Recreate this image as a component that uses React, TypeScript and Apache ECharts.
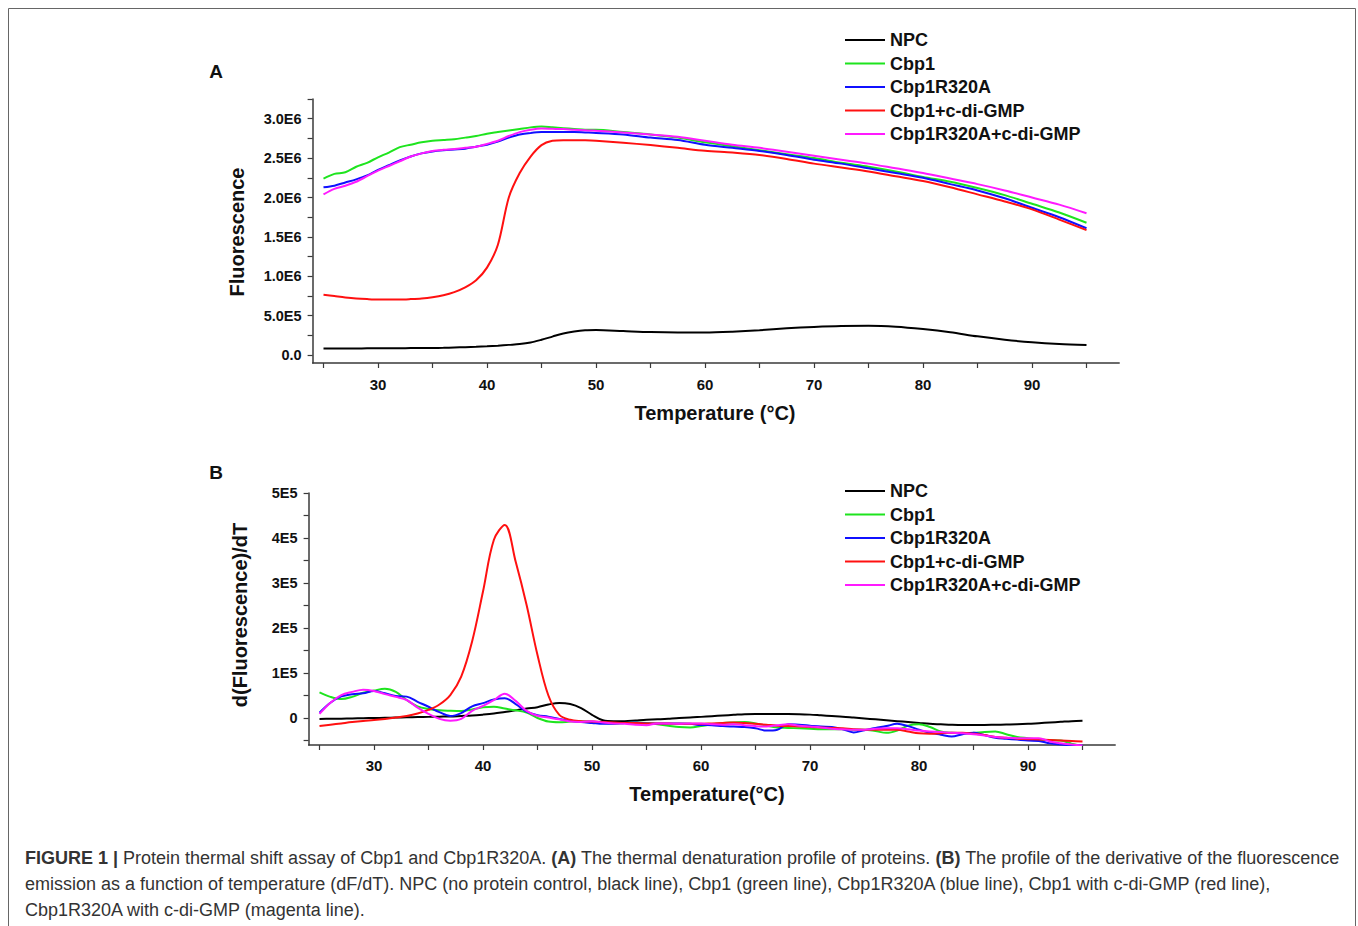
import React, { useEffect, useRef } from "react";
import * as echarts from "echarts";

// ---------- Panel A: Fluorescence (units of 1E6) ----------
const tempsA = [25, 26, 27, 28, 29, 30, 31, 32, 33, 34, 35, 36, 37, 38, 39, 40, 41, 42, 43, 44, 45, 46, 47, 48, 49, 50,
  52.5, 55, 57.5, 60, 62.5, 65, 67.5, 70, 72.5, 75, 77.5, 80, 82.5, 85, 87.5, 90, 92.5, 95];
const npcA = [0.085, 0.085, 0.085, 0.085, 0.086, 0.086, 0.087, 0.088, 0.089, 0.09, 0.091, 0.093, 0.097, 0.1, 0.105, 0.112, 0.12, 0.13, 0.14, 0.16, 0.195, 0.235, 0.275, 0.3, 0.315, 0.318,
  0.305, 0.292, 0.287, 0.287, 0.297, 0.315, 0.34, 0.358, 0.37, 0.372, 0.36, 0.33, 0.29, 0.238, 0.195, 0.162, 0.14, 0.127];
const cbp1A = [2.24, 2.3, 2.32, 2.39, 2.44, 2.51, 2.57, 2.64, 2.67, 2.7, 2.72, 2.73, 2.74, 2.76, 2.78, 2.81, 2.83, 2.85, 2.87, 2.89, 2.9, 2.89, 2.88, 2.87, 2.86, 2.86,
  2.83, 2.8, 2.76, 2.7, 2.65, 2.6, 2.55, 2.5, 2.44, 2.39, 2.33, 2.26, 2.2, 2.12, 2.03, 1.92, 1.81, 1.68];
const r320aA = [2.13, 2.15, 2.19, 2.23, 2.28, 2.35, 2.41, 2.47, 2.52, 2.56, 2.585, 2.6, 2.61, 2.62, 2.645, 2.67, 2.71, 2.76, 2.8, 2.82, 2.83, 2.83, 2.83, 2.83, 2.825, 2.82,
  2.8, 2.76, 2.73, 2.67, 2.63, 2.59, 2.54, 2.48, 2.43, 2.37, 2.31, 2.25, 2.17, 2.09, 1.99, 1.87, 1.75, 1.61];
const cbp1GmpA = [0.766, 0.749, 0.732, 0.719, 0.711, 0.706, 0.706, 0.706, 0.711, 0.719, 0.735, 0.76, 0.8, 0.86, 0.95, 1.11, 1.4, 2.0, 2.31, 2.52, 2.665, 2.72, 2.728, 2.728, 2.726, 2.72,
  2.695, 2.665, 2.63, 2.593, 2.57, 2.54, 2.49, 2.43, 2.38, 2.33, 2.27, 2.21, 2.13, 2.04, 1.95, 1.85, 1.72, 1.586];
const r320aGmpA = [2.04, 2.11, 2.15, 2.2, 2.27, 2.34, 2.4, 2.46, 2.52, 2.56, 2.59, 2.605, 2.615, 2.63, 2.645, 2.68, 2.72, 2.78, 2.83, 2.86, 2.876, 2.872, 2.868, 2.86, 2.855, 2.847,
  2.826, 2.8, 2.77, 2.72, 2.67, 2.63, 2.58, 2.53, 2.48, 2.43, 2.37, 2.31, 2.24, 2.17, 2.09, 2.0, 1.91, 1.8];

// ---------- Panel B: d(Fluorescence)/dT (units of 1E5) ----------
const tempsB = [25, 26, 27, 28, 29, 30, 31, 32, 33, 34, 35, 36, 37, 38, 39, 40, 41, 42, 43, 44, 45, 46, 47, 48, 49, 50,
  51, 52, 53, 54, 55, 56, 57, 58, 59, 60, 61, 62, 63, 64, 65, 66, 67, 68, 69, 70, 71, 72, 73, 74, 75,
  76, 77, 78, 79, 80, 81, 82, 83, 84, 85, 86, 87, 88, 89, 90, 91, 92, 93, 94, 95];
const npcB = [-0.02, -0.018, -0.015, -0.01, -0.005, 0, 0.005, 0.01, 0.015, 0.02, 0.025, 0.03, 0.035, 0.045, 0.055, 0.075, 0.1, 0.135, 0.17, 0.21, 0.24, 0.3, 0.335, 0.31, 0.22, 0.07,
  -0.05, -0.07, -0.07, -0.055, -0.04, -0.03, -0.015, 0, 0.01, 0.025, 0.04, 0.055, 0.07, 0.085, 0.09, 0.09, 0.09, 0.09, 0.085, 0.075, 0.06, 0.045, 0.03, 0.01, -0.01,
  -0.03, -0.05, -0.07, -0.09, -0.11, -0.13, -0.14, -0.15, -0.155, -0.155, -0.155, -0.15, -0.145, -0.14, -0.13, -0.115, -0.1, -0.085, -0.07, -0.06];
const cbp1B = [0.57, 0.47, 0.42, 0.47, 0.56, 0.61, 0.65, 0.58, 0.4, 0.26, 0.2, 0.17, 0.16, 0.155, 0.19, 0.24, 0.25, 0.21, 0.17, 0.12, 0.0, -0.08, -0.095, -0.08, -0.07, -0.08,
  -0.11, -0.12, -0.11, -0.1, -0.11, -0.14, -0.17, -0.2, -0.21, -0.18, -0.14, -0.11, -0.1, -0.09, -0.12, -0.17, -0.21, -0.22, -0.23, -0.24, -0.25, -0.25, -0.25, -0.26, -0.26,
  -0.29, -0.33, -0.28, -0.17, -0.14, -0.2, -0.3, -0.33, -0.34, -0.33, -0.31, -0.3, -0.36, -0.42, -0.45, -0.48, -0.49, -0.5, -0.57, -0.62];
const r320aB = [0.12, 0.34, 0.48, 0.53, 0.55, 0.6, 0.55, 0.49, 0.475, 0.36, 0.25, 0.13, 0.045, 0.11, 0.26, 0.33, 0.41, 0.44, 0.31, 0.14, 0.06, 0.03, -0.02, -0.06, -0.09, -0.11,
  -0.13, -0.13, -0.11, -0.1, -0.12, -0.12, -0.12, -0.12, -0.13, -0.155, -0.16, -0.18, -0.19, -0.2, -0.23, -0.28, -0.26, -0.14, -0.15, -0.17, -0.19, -0.2, -0.25, -0.32, -0.27,
  -0.22, -0.18, -0.13, -0.18, -0.26, -0.33, -0.37, -0.41, -0.36, -0.33, -0.38, -0.44, -0.46, -0.48, -0.5, -0.51, -0.56, -0.59, -0.6, -0.61];
const cbp1GmpB = [-0.18, -0.15, -0.12, -0.09, -0.065, -0.045, -0.02, 0.01, 0.045, 0.1, 0.18, 0.3, 0.51, 0.92, 1.7, 2.81, 3.96, 4.29, 3.47, 2.51, 1.4, 0.5, 0.07, -0.04, -0.07, -0.08,
  -0.09, -0.1, -0.11, -0.11, -0.12, -0.12, -0.12, -0.13, -0.13, -0.13, -0.12, -0.11, -0.1, -0.11, -0.13, -0.15, -0.17, -0.18, -0.19, -0.2, -0.21, -0.22, -0.23, -0.25, -0.26,
  -0.26, -0.26, -0.26, -0.3, -0.34, -0.35, -0.34, -0.33, -0.33, -0.35, -0.38, -0.42, -0.44, -0.46, -0.47, -0.48, -0.49, -0.5, -0.51, -0.52];
const r320aGmpB = [0.09, 0.34, 0.51, 0.58, 0.63, 0.6, 0.53, 0.47, 0.4, 0.23, 0.09, -0.02, -0.06, -0.02, 0.16, 0.27, 0.4, 0.54, 0.38, 0.16, 0.05, 0.01, -0.03, -0.08, -0.09, -0.07,
  -0.1, -0.12, -0.13, -0.15, -0.16, -0.12, -0.12, -0.13, -0.12, -0.12, -0.14, -0.15, -0.14, -0.16, -0.18, -0.19, -0.16, -0.14, -0.17, -0.19, -0.21, -0.24, -0.25, -0.26, -0.26,
  -0.24, -0.23, -0.23, -0.25, -0.28, -0.3, -0.31, -0.33, -0.34, -0.36, -0.39, -0.42, -0.44, -0.45, -0.45, -0.45, -0.52, -0.56, -0.59, -0.61];

// ---------- Names, ticks, labels ----------
const seriesNames = ["NPC", "Cbp1", "Cbp1R320A", "Cbp1+c-di-GMP", "Cbp1R320A+c-di-GMP"];
const seriesColors = ["#000000", "#1ee41e", "#1010ff", "#ff1010", "#ff1aff"];
const xTickValues = [25, 30, 35, 40, 45, 50, 55, 60, 65, 70, 75, 80, 85, 90, 95];
const xLabelValues = [30, 40, 50, 60, 70, 80, 90];
const yTickValuesA = [0, 0.25, 0.5, 0.75, 1, 1.25, 1.5, 1.75, 2, 2.25, 2.5, 2.75, 3, 3.25];
const yLabelValuesA = [0, 0.5, 1, 1.5, 2, 2.5, 3];
const yLabelsA = ["0.0", "5.0E5", "1.0E6", "1.5E6", "2.0E6", "2.5E6", "3.0E6"];
const yTickValuesB = [-0.5, 0, 0.5, 1, 1.5, 2, 2.5, 3, 3.5, 4, 4.5, 5];
const yLabelValuesB = [0, 1, 2, 3, 4, 5];
const yLabelsB = ["0", "1E5", "2E5", "3E5", "4E5", "5E5"];

const captionLines = [
  "{b|FIGURE 1 |} Protein thermal shift assay of Cbp1 and Cbp1R320A. {b|(A)} The thermal denaturation profile of proteins. {b|(B)} The profile of the derivative of the fluorescence",
  "emission as a function of temperature (dF/dT). NPC (no protein control, black line), Cbp1 (green line), Cbp1R320A (blue line), Cbp1 with c-di-GMP (red line),",
  "Cbp1R320A with c-di-GMP (magenta line).",
];

const FONT = "'Liberation Sans', Arial, Helvetica, sans-serif";
const AXIS_COLOR = "#3a3a3a";

function zip(xs: number[], ys: number[]) {
  return xs.map((x, i) => [x, ys[i]]);
}

export default function App() {
  const ref = useRef<HTMLDivElement>(null);

  useEffect(() => {
    if (!ref.current) return;
    const chart = echarts.init(ref.current, null, { renderer: "svg" });

    const dataA = [npcA, cbp1A, r320aA, cbp1GmpA, r320aGmpA];
    const dataB = [npcB, cbp1B, r320aB, cbp1GmpB, r320aGmpB];

    const xAxisBase = (gridIndex: number, margin: number) => ({
      type: "value",
      gridIndex,
      min: 24,
      max: 98,
      axisLine: { show: true, onZero: false, lineStyle: { color: AXIS_COLOR, width: 1.5 } },
      axisTick: { show: true, customValues: xTickValues, length: 5, lineStyle: { color: AXIS_COLOR, width: 1.2 } },
      axisLabel: {
        customValues: xLabelValues,
        margin,
        color: "#111",
        fontWeight: "bold",
        fontSize: 15,
        fontFamily: FONT,
      },
      splitLine: { show: false },
    });

    const lineSeries = (datasets: number[][], temps: number[], idx: number, smooth: number | boolean) =>
      datasets.map((vals, i) => ({
        type: "line",
        name: seriesNames[i],
        xAxisIndex: idx,
        yAxisIndex: idx,
        data: zip(temps, vals),
        symbol: "none",
        showSymbol: false,
        smooth,
        clip: true,
        lineStyle: { color: seriesColors[i], width: 2 },
        itemStyle: { color: seriesColors[i] },
      }));

    const legendBase = (top: number) => ({
      orient: "vertical",
      left: 845,
      top,
      padding: 0,
      icon: "rect",
      itemWidth: 40,
      itemHeight: 2,
      itemGap: 3.5,
      data: seriesNames,
      selectedMode: false,
      textStyle: { fontWeight: "bold", fontSize: 18, fontFamily: FONT, color: "#111", lineHeight: 20 },
    });

    const titleText = (x: number, y: number, text: string, rotate = 0, size = 20) => ({
      type: "text",
      x,
      y,
      rotation: rotate,
      style: {
        text,
        font: `bold ${size}px ${FONT}`,
        fill: "#111",
        align: "center",
        verticalAlign: "middle",
      },
    });

    const option: any = {
      animation: false,
      backgroundColor: "#ffffff",
      grid: [
        { left: 312.6, top: 99, width: 806.6, height: 264 },
        { left: 308.6, top: 493, width: 806.6, height: 252 },
      ],
      xAxis: [xAxisBase(0, 14), xAxisBase(1, 13)],
      yAxis: [
        {
          type: "value",
          gridIndex: 0,
          min: -0.1,
          max: 3.25,
          axisLine: { show: true, lineStyle: { color: AXIS_COLOR, width: 1.5 } },
          axisTick: { show: true, customValues: yTickValuesA, length: 5, lineStyle: { color: AXIS_COLOR, width: 1.2 } },
          axisLabel: {
            customValues: yLabelValuesA,
            formatter: (v: number) => yLabelsA[yLabelValuesA.indexOf(v)] ?? "",
            margin: 11,
            color: "#111",
            fontWeight: "bold",
            fontSize: 14.5,
            fontFamily: FONT,
          },
          splitLine: { show: false },
        },
        {
          type: "value",
          gridIndex: 1,
          min: -0.6,
          max: 5,
          axisLine: { show: true, lineStyle: { color: AXIS_COLOR, width: 1.5 } },
          axisTick: { show: true, customValues: yTickValuesB, length: 5, lineStyle: { color: AXIS_COLOR, width: 1.2 } },
          axisLabel: {
            customValues: yLabelValuesB,
            formatter: (v: number) => yLabelsB[yLabelValuesB.indexOf(v)] ?? "",
            margin: 11,
            color: "#111",
            fontWeight: "bold",
            fontSize: 14.5,
            fontFamily: FONT,
          },
          splitLine: { show: false },
        },
      ],
      legend: [legendBase(30), legendBase(481)],
      series: [...lineSeries(dataA, tempsA, 0, 0.3), ...lineSeries(dataB, tempsB, 1, 0.35)],
      graphic: [
        {
          type: "rect",
          shape: { x: 8.5, y: 8.5, width: 1347, height: 940 },
          style: { fill: "none", stroke: "#666", lineWidth: 1 },
          silent: true,
        },
        titleText(216, 71, "A", 0, 19),
        titleText(216, 472, "B", 0, 19),
        titleText(237, 232, "Fluorescence", Math.PI / 2),
        titleText(715, 413, "Temperature (°C)"),
        titleText(240, 615, "d(Fluorescence)/dT", Math.PI / 2),
        titleText(707, 794, "Temperature(°C)"),
        ...captionLines.map((line, i) => ({
          type: "text",
          x: 25,
          y: 858 + i * 26,
          style: {
            text: line,
            font: `18px ${FONT}`,
            fill: "#333",
            verticalAlign: "middle",
            rich: {
              b: { fontWeight: "bold", fontSize: 18, fontFamily: FONT, fill: "#333", color: "#333" },
            },
          },
        })),
      ],
    };

    chart.setOption(option);
    return () => chart.dispose();
  }, []);

  return (
    <div
      ref={ref}
      style={{ position: "fixed", left: 0, top: 0, width: 1358, height: 926, background: "#fff" }}
    />
  );
}
